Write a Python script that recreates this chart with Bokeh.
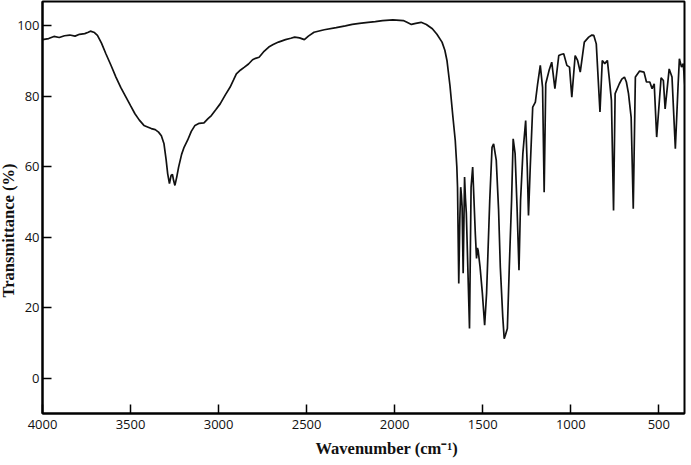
from bokeh.plotting import figure
from bokeh.models import Range1d, FixedTicker, Title
from bokeh.embed import file_html
from bokeh.resources import INLINE

wavenumber = [4000, 3965, 3935, 3905, 3875, 3845, 3815, 3790, 3760, 3740, 3728, 3705, 3688, 3665, 3640,
              3610, 3583, 3555, 3526, 3500, 3475, 3450, 3424, 3400, 3382, 3360, 3341, 3325, 3310, 3298,
              3289, 3279, 3270, 3262, 3255, 3248, 3238, 3227, 3210, 3196, 3176, 3155, 3134, 3110, 3083,
              3060, 3041, 3015, 2991, 2960, 2935, 2915, 2899, 2875, 2853, 2830, 2807, 2790, 2770, 2745,
              2715, 2690, 2660, 2620, 2590, 2568, 2540, 2513, 2490, 2458, 2400, 2332, 2280, 2241, 2200,
              2151, 2110, 2069, 2010, 1951, 1930, 1905, 1880, 1850, 1820, 1786, 1760, 1731, 1715, 1703,
              1686, 1670, 1656, 1647, 1643, 1636, 1630, 1625, 1621, 1617, 1611, 1603, 1598, 1593, 1575,
              1566, 1557, 1542, 1535, 1530, 1526, 1515, 1502, 1489, 1478, 1460, 1447, 1438, 1423, 1410,
              1400, 1386, 1378, 1370, 1360, 1349, 1336, 1327, 1316, 1305, 1294, 1285, 1272, 1256, 1247,
              1240, 1230, 1216, 1201, 1188, 1173, 1160, 1151, 1142, 1123, 1108, 1090, 1068, 1055, 1040,
              1022, 1007, 994, 975, 961, 946, 923, 898, 880, 869, 855, 834, 821, 807, 792,
              782, 769, 757, 748, 724, 710, 695, 684, 672, 657, 645, 633, 609, 584, 570,
              551, 538, 526, 512, 487, 474, 464, 441, 425, 406, 390, 383, 371, 361, 352]

transmittance = [96.0, 96.3, 96.9, 96.6, 97.1, 97.3, 97.0, 97.5, 97.7, 98.1, 98.4, 98.0, 97.2, 95.0, 92.0,
                 88.6, 85.4, 82.4, 79.7, 77.3, 75.0, 73.2, 71.7, 71.2, 70.8, 70.5, 69.8, 68.8, 66.5, 62.0,
                 58.0, 55.2, 57.5, 57.8, 56.0, 54.7, 57.0, 59.9, 63.5, 65.5, 67.5, 70.0, 71.7, 72.3, 72.4,
                 73.6, 74.5, 76.2, 77.8, 80.5, 82.5, 84.6, 86.3, 87.4, 88.2, 89.1, 90.3, 90.7, 91.0, 92.5,
                 93.9, 94.6, 95.3, 96.0, 96.4, 96.7, 96.5, 96.0, 97.0, 98.1, 98.8, 99.4, 99.9, 100.3, 100.6,
                 100.9, 101.1, 101.4, 101.6, 101.4, 100.9, 100.3, 100.6, 100.9, 100.3, 99.1, 97.5, 95.3, 93.0, 90.1,
                 83.0, 74.5, 67.5, 60.0, 54.2, 26.9, 45.0, 54.2, 52.0, 48.6, 29.8, 57.1, 51.0, 46.8, 14.2,
                 54.2, 59.9, 41.0, 34.0, 37.0, 36.3, 31.6, 24.2, 15.1, 24.2, 50.5, 65.5, 66.5, 61.8, 48.0,
                 31.6, 17.4, 11.3, 12.5, 14.2, 31.6, 50.5, 67.9, 63.7, 48.6, 30.7, 50.5, 63.7, 73.1, 59.9,
                 46.2, 59.9, 76.9, 78.3, 83.5, 88.7, 82.5, 52.8, 83.5, 87.3, 89.6, 82.1, 91.5, 91.8, 92.0,
                 88.7, 88.2, 79.7, 91.5, 90.1, 86.8, 95.3, 96.7, 97.3, 97.2, 94.8, 75.5, 90.1, 89.2, 90.1,
                 85.4, 78.8, 47.6, 80.7, 83.5, 84.8, 85.4, 84.0, 80.7, 74.0, 48.1, 85.4, 87.1, 86.8, 84.0,
                 84.0, 82.1, 83.5, 68.4, 85.2, 84.4, 76.4, 87.7, 85.4, 65.1, 83.5, 90.6, 88.2, 89.2, 83.0]

x_ticks = [4000, 3500, 3000, 2500, 2000, 1500, 1000, 500]
y_ticks = [0, 20, 40, 60, 80, 100]

p = figure(width=691, height=465, output_backend="svg", toolbar_location=None, title=None,
           x_range=Range1d(4000, 354), y_range=Range1d(-9.9, 106.8),
           min_border_left=41, min_border_right=7, min_border_top=1, min_border_bottom=52,
           background_fill_color="white", border_fill_color="white")

p.line(wavenumber, transmittance, line_color="#111111", line_width=1.7)

p.grid.visible = False
p.outline_line_color = "black"
p.outline_line_width = 2

p.xaxis.ticker = FixedTicker(ticks=x_ticks)
p.yaxis.ticker = FixedTicker(ticks=y_ticks)
for ax in (p.xaxis[0], p.yaxis[0]):
    ax.axis_line_width = 2
    ax.axis_line_color = "black"
    ax.major_tick_in = 9
    ax.major_tick_out = 0
    ax.major_tick_line_width = 1.5
    ax.major_tick_line_color = "black"
    ax.minor_tick_line_color = None
    ax.major_label_text_font = "Open Sans"
    ax.major_label_text_font_size = "13px"
    ax.major_label_text_color = "#111111"
p.xaxis.major_label_standoff = 6
p.yaxis.major_label_standoff = 3

xt = Title(text="Wavenumber (cm⁻¹)", align="left", offset=273, standoff=10,
           vertical_align="bottom",
           text_font="Liberation Serif", text_font_size="16.5px", text_font_style="bold",
           text_color="#111111")
p.add_layout(xt, "below")
yt = Title(text="Transmittance (%)", align="left", offset=116, standoff=-7,
           text_font="Liberation Serif", text_font_size="16.5px", text_font_style="bold",
           text_color="#111111")
p.add_layout(yt, "left")

open("out.html", "w").write(file_html(p, INLINE))
